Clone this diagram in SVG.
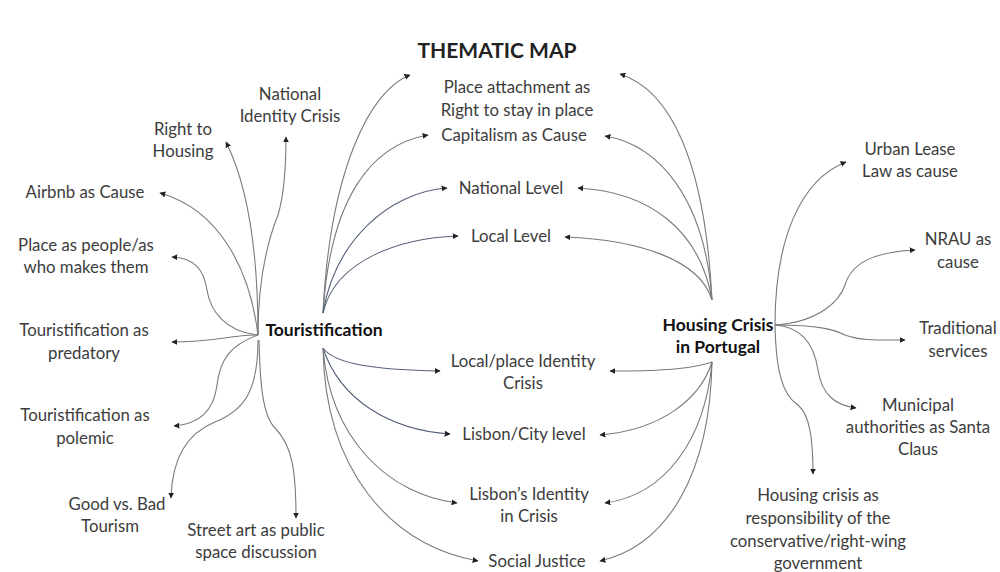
<svg xmlns="http://www.w3.org/2000/svg" width="1000" height="572" viewBox="0 0 1000 572">
<defs>
<marker id="ah" viewBox="0 0 10 10" refX="9" refY="5" markerWidth="6" markerHeight="6" markerUnits="userSpaceOnUse" orient="auto">
<path d="M0,0 L10,5 L0,10 z" fill="#222"/>
</marker>
<style>
.t{font-family:Lato,"Open Sans","Liberation Sans",sans-serif;font-size:16.8px;fill:#3c3c3c;text-anchor:middle}
.b{font-weight:bold;fill:#111;font-size:17.5px}
.c{fill:none;stroke:#7a7a7a;stroke-width:1.1;marker-end:url(#ah)}
.cb{stroke:#55607a}
</style>
</defs>
<rect width="1000" height="572" fill="#fff"/>
<text x="497" y="58" class="t b" style="font-size:21px;fill:#222">THEMATIC MAP</text>

<g id="connectors">
<path class="c" d="M258,335 C258,280 268,240 278,215 C284,195 286,170 286,137"/>
<path class="c" d="M258,335 C258,260 250,190 226,142"/>
<path class="c" d="M258,335 C250,270 220,210 160,193"/>
<path class="c" d="M258,335 C225,332 210,310 207,290 C204,270 195,258 172,257"/>
<path class="c" d="M258,335 C230,335 215,342 172,342"/>
<path class="c" d="M258,335 C230,345 220,360 217,385 C214,410 200,424 174,426"/>
<path class="c" d="M258,340 C258,390 245,410 215,422 C185,434 172,460 171,498"/>
<path class="c" d="M259,340 C260,380 262,415 275,428 C292,445 296,470 296,518"/>

<path class="c" d="M323,313 C330,170 370,90 410,75"/>
<path class="c" d="M323,313 C330,200 370,145 428,135"/>
<path class="c cb" d="M323,313 C335,240 390,192 447,188"/>
<path class="c cb" d="M323,313 C335,260 400,238 458,236"/>
<path class="c cb" d="M323,348 C335,365 380,370 440,371"/>
<path class="c cb" d="M323,348 C340,400 390,430 450,434"/>
<path class="c" d="M323,348 C330,440 390,495 457,503"/>
<path class="c" d="M323,348 C325,470 390,545 478,561"/>

<path class="c" d="M712,300 C705,160 670,90 620,74"/>
<path class="c" d="M712,300 C705,200 660,145 605,136"/>
<path class="c" d="M712,300 C700,230 650,192 578,188"/>
<path class="c" d="M712,300 C700,260 640,240 565,237"/>
<path class="c" d="M712,362 C690,370 650,371 610,371"/>
<path class="c" d="M712,362 C700,400 660,430 600,435"/>
<path class="c" d="M712,362 C705,440 665,495 605,503"/>
<path class="c" d="M712,362 C710,470 670,545 600,561"/>

<path class="c" d="M775,325 C775,240 800,180 846,162"/>
<path class="c" d="M775,325 C820,322 840,300 845,285 C852,262 875,252 915,250"/>
<path class="c" d="M775,325 C820,325 835,330 845,335 C860,341 880,340 905,340"/>
<path class="c" d="M775,325 C805,327 815,350 818,370 C822,395 835,405 856,408"/>
<path class="c" d="M775,325 C776,370 782,395 798,405 C810,415 813,440 813,474"/>
</g>

<g id="touristification"><text class="t b" x="324" y="336">Touristification</text></g>
<g id="housing"><text class="t b" x="718" y="331">Housing Crisis</text><text class="t b" x="718" y="353">in Portugal</text></g>

<g id="n-national-identity"><text class="t" x="290" y="100">National</text><text class="t" x="290" y="122">Identity Crisis</text></g>
<g id="n-right-housing"><text class="t" x="183" y="135">Right to</text><text class="t" x="183" y="157">Housing</text></g>
<g id="n-airbnb"><text class="t" x="85" y="198">Airbnb as Cause</text></g>
<g id="n-place-people"><text class="t" x="86" y="251">Place as people/as</text><text class="t" x="86" y="273">who makes them</text></g>
<g id="n-predatory"><text class="t" x="84" y="336">Touristification as</text><text class="t" x="84" y="359">predatory</text></g>
<g id="n-polemic"><text class="t" x="85" y="421">Touristification as</text><text class="t" x="85" y="444">polemic</text></g>
<g id="n-goodbad"><text class="t" x="117" y="510">Good vs. Bad</text><text class="t" x="110" y="532">Tourism</text></g>
<g id="n-streetart"><text class="t" x="256" y="536">Street art as public</text><text class="t" x="256" y="558">space discussion</text></g>

<g id="n-place-attachment"><text class="t" x="517" y="93">Place attachment as</text><text class="t" x="517" y="116">Right to stay in place</text></g>
<g id="n-capitalism"><text class="t" x="514" y="141">Capitalism as Cause</text></g>
<g id="n-national-level"><text class="t" x="511" y="194">National Level</text></g>
<g id="n-local-level"><text class="t" x="511" y="242">Local Level</text></g>
<g id="n-local-identity"><text class="t" x="523" y="367">Local/place Identity</text><text class="t" x="523" y="389">Crisis</text></g>
<g id="n-lisbon-city"><text class="t" x="524" y="440">Lisbon/City level</text></g>
<g id="n-lisbon-identity"><text class="t" x="529" y="500">Lisbon’s Identity</text><text class="t" x="529" y="522">in Crisis</text></g>
<g id="n-social-justice"><text class="t" x="537" y="567">Social Justice</text></g>

<g id="n-urban-lease"><text class="t" x="910" y="155">Urban Lease</text><text class="t" x="910" y="177">Law as cause</text></g>
<g id="n-nrau"><text class="t" x="958" y="245">NRAU as</text><text class="t" x="958" y="268">cause</text></g>
<g id="n-traditional"><text class="t" x="958" y="334">Traditional</text><text class="t" x="958" y="357">services</text></g>
<g id="n-municipal"><text class="t" x="918" y="411">Municipal</text><text class="t" x="918" y="433">authorities as Santa</text><text class="t" x="918" y="455">Claus</text></g>
<g id="n-responsibility"><text class="t" x="818" y="501">Housing crisis as</text><text class="t" x="818" y="524">responsibility of the</text><text class="t" x="818" y="547">conservative/right-wing</text><text class="t" x="818" y="569">government</text></g>
</svg>
